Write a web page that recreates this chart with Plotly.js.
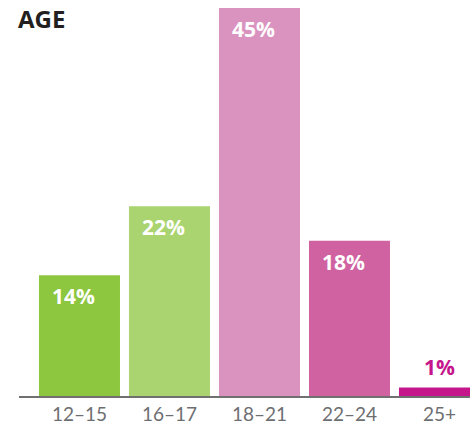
<!DOCTYPE html>
<html>
<head>
<meta charset="utf-8">
<script src="https://cdn.plot.ly/plotly-3.0.1.min.js"></script>
<style>html,body{margin:0;padding:0;background:#fff;}#chart{width:470px;height:427px;}</style>
</head>
<body>
<div id="chart"></div>
<script>
const categories = ["12–15", "16–17", "18–21", "22–24", "25+"];
const values = [14, 22, 45, 18, 1];
const labels = ["14%", "22%", "45%", "18%", "1%"];
const barColors = ["#8dc63f", "#a9d46f", "#da93bf", "#d062a2", "#c5168c"];
const chartTitle = "AGE";

const trace = {
  type: "bar",
  x: categories,
  y: values,
  marker: { color: barColors, line: { width: 0 } },
  hoverinfo: "none"
};

const annotations = categories.map((c, i) => {
  const inside = values[i] > 5;
  return inside ? {
    x: c, y: values[i], xref: "x", yref: "y",
    text: labels[i], showarrow: false,
    xanchor: "left", yanchor: "middle",
    xshift: -29, yshift: -21,
    font: { family: "Open Sans, sans-serif", size: 21, color: "#ffffff", weight: 700 }
  } : {
    x: c, y: values[i], xref: "x", yref: "y",
    text: labels[i], showarrow: false,
    xanchor: "center", yanchor: "middle",
    yshift: 20,
    font: { family: "Open Sans, sans-serif", size: 21, color: barColors[i], weight: 700 }
  };
});

annotations.push({
  text: chartTitle, xref: "paper", yref: "paper",
  x: 0, y: 1, xanchor: "left", yanchor: "top",
  xshift: -3, yshift: 0, showarrow: false,
  font: { family: "Open Sans, sans-serif", size: 24, color: "#231f20", weight: 700 }
});

const layout = {
  width: 470, height: 427,
  margin: { l: 19, r: 0, t: 0, b: 31 },
  paper_bgcolor: "#ffffff", plot_bgcolor: "#ffffff",
  bargap: 0.1,
  showlegend: false,
  xaxis: {
    type: "category",
    range: [-0.672, 4.339],
    showline: true, linecolor: "#707070", linewidth: 2,
    ticks: "", showgrid: false, zeroline: false,
    tickfont: { family: "Lato, sans-serif", size: 19, color: "#6d6e71" },
    ticklabelstandoff: 0,
    fixedrange: true
  },
  yaxis: {
    range: [0, 45.93],
    visible: false, showgrid: false, zeroline: false,
    fixedrange: true
  },
  annotations: annotations
};

Plotly.newPlot("chart", [trace], layout, { displayModeBar: false, staticPlot: true });
</script>
</body>
</html>
